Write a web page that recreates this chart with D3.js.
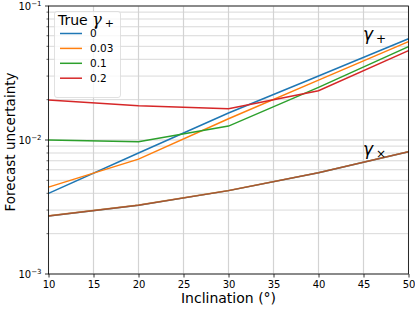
<!DOCTYPE html>
<html>
<head>
<meta charset="utf-8">
<script src="https://cdn.jsdelivr.net/npm/d3@7"></script>
<style>
  body { margin: 0; background: #fff; }
  text { font-family: "DejaVu Sans", sans-serif; }
</style>
</head>
<body>
<svg id="chart" width="415" height="309"></svg>
<script>
// inclinations and the true gamma_+ values used in the legend
var inclinations = [10, 20, 30, 40, 50];
var gammaLabels = ["0", "0.03", "0.1", "0.2"];
var colors = ["#1f77b4", "#ff7f0e", "#2ca02c", "#d62728"];

// forecast uncertainty on gamma_+ for each true value
var plusBlue   = [0.0040, 0.0080, 0.0159, 0.0300, 0.0570];
var plusOrange = [0.00445, 0.0072, 0.0144, 0.0280, 0.0542];
var plusGreen  = [0.0100, 0.0097, 0.0127, 0.0247, 0.0497];
var plusRed    = [0.0199, 0.0180, 0.0171, 0.0233, 0.0465];
var plusSeries = [plusBlue, plusOrange, plusGreen, plusRed];

// forecast uncertainty on gamma_x (nearly the same for every true value)
var crossBlue   = [0.00271, 0.00326, 0.00419, 0.00570, 0.00818];
var crossOrange = [0.00272, 0.00327, 0.00420, 0.00571, 0.00819];
var crossGreen  = [0.00271, 0.00326, 0.00419, 0.00570, 0.00818];
var crossRed    = [0.00271, 0.00326, 0.00419, 0.00570, 0.00818];
var crossSeries = [crossBlue, crossOrange, crossGreen, crossRed];

var xTicks = [10, 15, 20, 25, 30, 35, 40, 45, 50];
var yMajor = [1e-3, 1e-2, 1e-1];
var yExp = ["\u22123", "\u22122", "\u22121"];

var svg = d3.select("#chart");
var mLeft = 48.5, mRight = 408.5, mTop = 6, mBottom = 274;

var x = d3.scaleLinear().domain([10, 50]).range([mLeft, mRight]);
var y = d3.scaleLog().domain([1e-3, 1e-1]).range([mBottom, mTop]);

// minor values 2..9 per decade
var yMinor = [];
[1e-3, 1e-2].forEach(function(d) {
  for (var k = 2; k <= 9; k++) yMinor.push(d * k);
});

// grid
var grid = svg.append("g");
grid.selectAll("line.minor").data(yMinor).enter().append("line")
  .attr("x1", mLeft).attr("x2", mRight)
  .attr("y1", function(d) { return y(d); }).attr("y2", function(d) { return y(d); })
  .attr("stroke", "#cfcfcf").attr("stroke-width", 0.8);
grid.selectAll("line.hmaj").data(yMajor).enter().append("line")
  .attr("x1", mLeft).attr("x2", mRight)
  .attr("y1", function(d) { return y(d); }).attr("y2", function(d) { return y(d); })
  .attr("stroke", "#cfcfcf").attr("stroke-width", 1.2);
grid.selectAll("line.v").data(xTicks).enter().append("line")
  .attr("y1", mTop).attr("y2", mBottom)
  .attr("x1", function(d) { return x(d); }).attr("x2", function(d) { return x(d); })
  .attr("stroke", "#d3d3d3").attr("stroke-width", 1.2);

var line = d3.line()
  .x(function(d, i) { return x(inclinations[i]); })
  .y(function(d) { return y(d); });

// gamma_x lines, drawn translucent so they blend to brown
crossSeries.forEach(function(s, i) {
  svg.append("path").datum(s)
    .attr("d", line)
    .attr("fill", "none")
    .attr("stroke", colors[i])
    .attr("stroke-opacity", 0.6)
    .attr("stroke-width", 1.5);
});

plusSeries.forEach(function(s, i) {
  svg.append("path").datum(s)
    .attr("d", line)
    .attr("fill", "none")
    .attr("stroke", colors[i])
    .attr("stroke-width", 1.5);
});

// axes
var xAxis = d3.axisBottom(x).tickValues(xTicks).tickSize(3.5).tickPadding(3.5);
var gx = svg.append("g").attr("transform", "translate(0," + mBottom + ")").call(xAxis);
gx.select(".domain").remove();
gx.selectAll("text").attr("font-size", 10).attr("fill", "#000")
  .attr("font-family", "DejaVu Sans");
gx.selectAll("line").attr("stroke", "#000").attr("stroke-width", 0.8);

var gy = svg.append("g").attr("transform", "translate(" + mLeft + ",0)");
gy.selectAll("line.minor").data(yMinor).enter().append("line")
  .attr("x1", 0).attr("x2", -2)
  .attr("y1", function(d) { return y(d); }).attr("y2", function(d) { return y(d); })
  .attr("stroke", "#000").attr("stroke-width", 0.6);
gy.selectAll("line.major").data(yMajor).enter().append("line")
  .attr("x1", 0).attr("x2", -3.5)
  .attr("y1", function(d) { return y(d); }).attr("y2", function(d) { return y(d); })
  .attr("stroke", "#000").attr("stroke-width", 0.8);
var yl = gy.selectAll("text.tl").data(yMajor).enter().append("text")
  .attr("x", -7).attr("y", function(d) { return y(d) + 3.5; })
  .attr("text-anchor", "end").attr("font-size", 10).attr("fill", "#000");
yl.append("tspan").text("10");
yl.append("tspan").attr("dy", -4).attr("font-size", 7)
  .text(function(d, i) { return yExp[i]; });

// spines
svg.append("rect").attr("x", mLeft).attr("y", mTop)
  .attr("width", mRight - mLeft).attr("height", mBottom - mTop)
  .attr("fill", "none").attr("stroke", "#000").attr("stroke-width", 0.8);

// axis labels
svg.append("text").attr("x", (mLeft + mRight) / 2).attr("y", 303)
  .attr("text-anchor", "middle").attr("font-size", 14).text("Inclination (\u00b0)");
svg.append("text")
  .attr("transform", "translate(15," + ((mTop + mBottom) / 2 + 2) + ") rotate(-90)")
  .attr("text-anchor", "middle").attr("font-size", 13.5).text("Forecast uncertainty");

// gamma annotations
function gammaLabel(px, py, sub) {
  var t = svg.append("text").attr("x", px).attr("y", py).attr("font-size", 17)
    .attr("font-family", "DejaVu Serif");
  t.append("tspan").attr("font-style", "italic").text("\u03b3");
  t.append("tspan").attr("dx", 3).attr("dy", 3).attr("font-size", 12)
    .attr("font-family", "DejaVu Sans").text(sub);
}
gammaLabel(363, 40, "+");
gammaLabel(363, 155, "\u00d7");

// legend
var lg = svg.append("g");
lg.append("rect").attr("x", 54.5).attr("y", 11.5).attr("width", 66).attr("height", 86)
  .attr("rx", 2.5).attr("fill", "#fff").attr("fill-opacity", 0.8)
  .attr("stroke", "#d9d9d9").attr("stroke-width", 0.8);
var title = lg.append("text").attr("x", 58).attr("y", 25).attr("font-size", 14);
title.append("tspan").text("True ");
title.append("tspan").attr("font-family", "DejaVu Serif").attr("font-style", "italic")
  .attr("font-size", 16).text("\u03b3");
title.append("tspan").attr("dx", 3).attr("dy", 1.5).attr("font-size", 11).text("+");

var items = lg.selectAll("g.item").data(gammaLabels).enter().append("g")
  .attr("transform", function(d, i) { return "translate(0," + (33.5 + i * 14.9) + ")"; });
items.append("line").attr("x1", 60).attr("x2", 82)
  .attr("stroke", function(d, i) { return colors[i]; }).attr("stroke-width", 1.5);
items.append("text").attr("x", 90).attr("y", 3.8).attr("font-size", 10.5).text(function(d) { return d; });
</script>
</body>
</html>
